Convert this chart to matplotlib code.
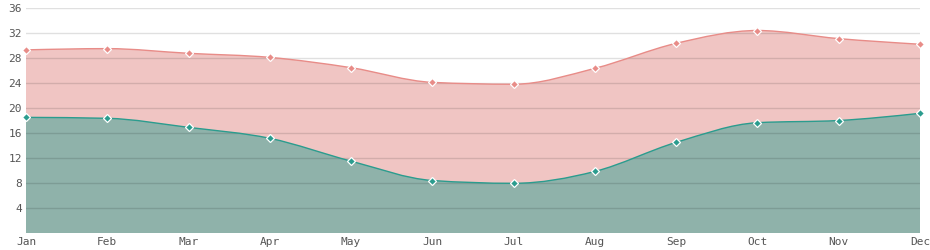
import numpy as np
import matplotlib
matplotlib.use("Agg")
import matplotlib.pyplot as plt
from matplotlib.path import Path
from matplotlib.patches import PathPatch

# 月份与温度数据
months = ["Jan", "Feb", "Mar", "Apr", "May", "Jun",
          "Jul", "Aug", "Sep", "Oct", "Nov", "Dec"]
temp_high = [29.3, 29.5, 28.75, 28.1, 26.45, 24.1, 23.8, 26.35, 30.35, 32.4, 31.1, 30.2]
temp_low = [18.5, 18.35, 16.9, 15.15, 11.5, 8.4, 7.95, 9.85, 14.5, 17.65, 18.0, 19.15]
y_ticks = [4, 8, 12, 16, 20, 24, 28, 32, 36]


def monotone_tangents(x, y):
    """单调三次插值的切线（d3 curveMonotoneX 风格）"""
    n = len(x)
    h = np.diff(x)
    s = np.diff(y) / h
    t = np.zeros(n)
    for i in range(1, n - 1):
        p = (s[i - 1] * h[i] + s[i] * h[i - 1]) / (h[i - 1] + h[i])
        t[i] = (np.sign(s[i - 1]) + np.sign(s[i])) * min(abs(s[i - 1]), abs(s[i]), 0.5 * abs(p))
    t[0] = (3 * s[0] - t[1]) / 2
    t[-1] = (3 * s[-1] - t[-2]) / 2
    return t


def curve_path(x, y, closed=False):
    x = np.asarray(x, float)
    y = np.asarray(y, float)
    t = monotone_tangents(x, y)
    verts = [(x[0], y[0])]
    codes = [Path.MOVETO]
    for i in range(len(x) - 1):
        dx = (x[i + 1] - x[i]) / 3
        verts += [(x[i] + dx, y[i] + dx * t[i]),
                  (x[i + 1] - dx, y[i + 1] - dx * t[i + 1]),
                  (x[i + 1], y[i + 1])]
        codes += [Path.CURVE4] * 3
    if closed:
        verts += [(x[-1], 0), (x[0], 0), (x[0], y[0])]
        codes += [Path.LINETO, Path.LINETO, Path.CLOSEPOLY]
    return Path(verts, codes)


fig = plt.figure(figsize=(9.3, 2.5), dpi=100)
ax = fig.add_axes([26 / 930, 17 / 250, 894 / 930, 225 / 250])

xs = np.arange(len(months))

series = [
    (temp_high, "#f0c5c3", "#e88c88"),
    (temp_low, "#8fb2aa", "#2b9c8e"),
]
for vals, fill_c, line_c in series:
    ax.add_patch(PathPatch(curve_path(xs, vals, closed=True), facecolor=fill_c,
                           edgecolor="none", zorder=1))
    ax.add_patch(PathPatch(curve_path(xs, vals), facecolor="none",
                           edgecolor=line_c, linewidth=1.0, zorder=3))
    ax.plot(xs, vals, linestyle="none", marker="D", markersize=4.5,
            markerfacecolor=line_c, markeredgecolor="white",
            markeredgewidth=0.9, zorder=4, clip_on=False)

# 网格线
for yv in y_ticks:
    ax.axhline(yv, color="#000000", alpha=0.12, linewidth=1, zorder=2)

ax.set_xlim(0, len(months) - 1)
ax.set_ylim(0, 36)
ax.set_xticks(xs)
ax.set_xticklabels(months)
ax.set_yticks(y_ticks)
ax.tick_params(length=0, labelsize=8, colors="#555555", pad=3)
for lbl in ax.get_xticklabels() + ax.get_yticklabels():
    lbl.set_fontfamily("DejaVu Sans Mono")
for sp in ax.spines.values():
    sp.set_visible(False)

fig.savefig("out.png", dpi=100)
